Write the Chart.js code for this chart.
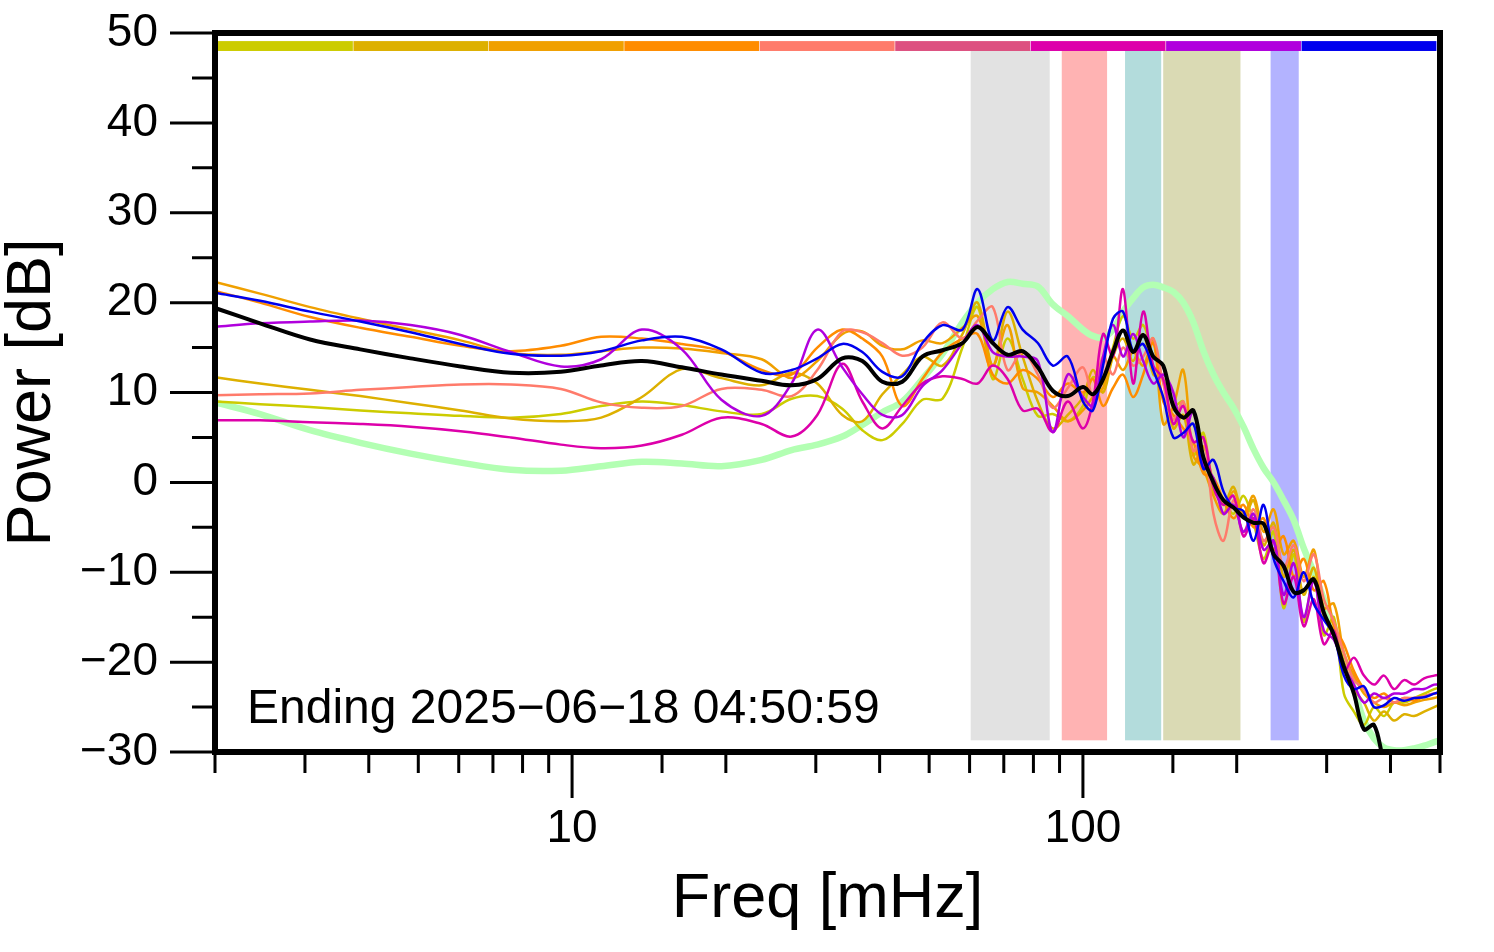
<!DOCTYPE html>
<html>
<head>
<meta charset="utf-8">
<script src="https://cdn.jsdelivr.net/npm/chart.js@4/dist/chart.umd.min.js"></script>
<style>
  html, body { margin: 0; padding: 0; background: #fff; }
</style>
</head>
<body>
<canvas id="psd" width="1494" height="952"></canvas>
<script>
// frequency grid [mHz]
const freq = [2.0, 2.45, 3.07, 3.85, 4.83, 6.05, 7.59, 9.51, 11.4, 13.7, 16.4, 19.6, 23.5, 26.9, 30.2,
  33.8, 37.0, 40.5, 44.3, 48.5, 53.1, 58.1, 62.2, 66.6, 71.2, 76.2, 81.6, 87.3, 93.4, 100,
  104.6, 109.5, 114.5, 119.8, 125.4, 131.2, 137.3, 143.6, 150.3, 157.2, 164.5, 172.1, 180.1, 188.4, 197.1,
  206.2, 215.8, 225.8, 236.2, 247.1, 258.6, 270.5, 283.1, 296.2, 309.9, 324.2, 339.2, 354.9, 371.3, 388.5,
  406.5, 425.3, 444.9, 465.5, 487.1, 500];

// power [dB] per station
const yellowDb = [9.0, 8.7, 8.4, 8.0, 7.7, 7.4, 7.2, 7.6, 8.5, 9.0, 8.6, 7.9, 7.6, 9.3, 9.6,
  8.2, 5.8, 4.7, 6.5, 9.2, 9.3, 15.0, 19.5, 11.5, 16.0, 11.5, 7.4, 7.6, 6.8, 8.5,
  11.7, 11.0, 15.0, 18.5, 16.0, 17.5, 14.0, 13.0, 8.5, 9.0, 3.0, 5.5, -1.0, -2.0, -3.5,
  -1.5, -4.5, -8.5, -5.5, -14.0, -8.0, -15.5, -10.5, -17.0, -15.0, -23.5, -25.5, -27.0, -25.0, -26.0,
  -24.5, -24.5, -24.0, -23.5, -23.0, -22.8];
const goldDb = [11.7, 11.0, 10.3, 9.6, 8.8, 8.0, 7.1, 6.8, 7.2, 9.5, 12.6, 11.6, 10.8, 12.2, 11.0,
  7.5, 6.8, 9.8, 12.0, 14.0, 13.0, 16.5, 20.0, 13.0, 19.0, 14.0, 9.0, 6.0, 7.5, 9.5,
  12.5, 10.0, 14.0, 16.0, 13.5, 16.5, 12.0, 11.5, 6.0, 7.5, 2.0, 4.0, 0.0, -2.5, -0.5,
  -4.0, -2.0, -7.0, -4.5, -10.5, -7.5, -12.5, -9.5, -15.0, -16.5, -20.0, -23.0, -24.5, -26.5, -25.5,
  -26.5, -25.8, -26.0, -25.5, -25.0, -24.7];
const orangeDb = [22.3, 21.0, 19.5, 18.2, 17.0, 15.8, 14.4, 14.2, 14.6, 15.0, 14.9, 14.4, 13.7, 11.6, 13.5,
  16.5, 16.8, 15.2, 14.8, 15.8, 15.5, 17.2, 18.5, 13.0, 17.5, 10.5, 10.0, 8.5, 6.8, 8.0,
  9.5, 10.5, 14.0, 12.5, 14.5, 13.0, 16.0, 6.5, 8.5, 12.5, 3.0, 1.5, -1.5, -3.5, -1.0,
  -3.5, -1.5, -5.5, -3.0, -8.0, -6.5, -10.5, -7.5, -14.0, -13.5, -19.0, -21.5, -23.5, -24.5, -25.0,
  -24.5, -24.8, -24.5, -24.2, -24.0, -23.8];
const darkOrangeDb = [21.3, 20.0, 18.4, 17.2, 16.2, 15.2, 14.6, 15.2, 16.2, 16.0, 15.4, 14.6, 12.5, 12.0, 15.0,
  17.0, 16.0, 14.0, 8.5, 11.5, 14.5, 16.0, 16.5, 12.0, 11.0, 12.5, 11.5, 9.5, 11.0, 10.0,
  11.5, 8.5, 10.5, 12.0, 9.5, 12.0, 15.5, 9.0, 7.5, 6.0, 4.5, 1.0, 0.5, -2.0, -4.0,
  -2.5, -5.0, -4.0, -7.5, -6.0, -10.5, -8.5, -12.0, -11.0, -16.0, -18.0, -21.0, -23.0, -24.0, -23.5,
  -24.5, -24.0, -24.3, -23.8, -23.5, -23.3];
const salmonDb = [9.7, 9.8, 9.9, 10.3, 10.6, 10.9, 10.9, 10.4, 8.9, 8.3, 8.5, 10.4, 10.3, 9.6, 12.5,
  16.8, 16.7, 15.5, 14.1, 15.0, 17.8, 16.0, 18.0, 19.5, 12.5, 14.5, 12.0, 8.3, 10.5, 12.8,
  9.6, 14.0, 12.0, 15.0, 13.0, 14.0, 16.0, 11.0, 7.0, 9.0, 3.5, 5.0, -3.5, -6.5, -2.0,
  -5.5, -3.0, -6.5, -5.0, -9.5, -7.0, -11.0, -8.0, -13.0, -15.5, -19.0, -22.0, -23.0, -24.5, -24.0,
  -24.5, -24.0, -24.0, -23.8, -23.5, -23.5];
const magentaDb = [6.9, 6.9, 6.7, 6.5, 6.2, 5.7, 5.0, 4.2, 3.8, 4.1, 5.3, 7.2, 6.5, 5.1, 7.5,
  13.2, 9.0, 6.0, 8.5, 11.0, 11.8, 11.5, 11.0, 13.0, 11.5, 8.0, 8.2, 5.6, 9.0, 6.0,
  9.0, 16.5, 14.0, 21.5, 11.0, 19.0, 13.0, 11.5, 6.5, 8.5, 4.5, 5.0, -0.5, -2.5, -1.5,
  -6.0, -4.0, -9.0, -6.5, -13.5, -10.5, -16.0, -13.0, -18.0, -16.5, -21.0, -19.5, -21.5, -22.5, -21.5,
  -23.0, -22.0, -22.5, -21.8, -21.5, -21.4];
const purpleDb = [17.3, 17.7, 17.9, 18.0, 17.5, 16.4, 14.5, 12.9, 13.7, 17.0, 14.8, 9.2, 7.4, 11.0, 17.0,
  12.8, 9.8, 7.5, 7.5, 10.7, 12.5, 15.5, 17.5, 14.5, 14.0, 14.0, 13.5, 5.6, 12.0, 9.5,
  8.5, 14.0, 17.5, 14.0, 16.5, 13.5, 11.0, 12.0, 10.0, 5.0, 8.0, 2.0, 0.5, -3.5, -2.5,
  -5.5, -3.5, -7.5, -6.5, -12.5, -9.0, -15.0, -11.0, -16.5, -17.5, -20.5, -22.5, -24.5, -23.5, -24.0,
  -23.5, -23.5, -23.0, -23.0, -22.5, -22.5];
const blueDb = [21.1, 20.2, 19.0, 17.9, 16.7, 15.4, 14.3, 14.1, 14.6, 15.8, 16.2, 14.8, 12.2, 12.5, 13.8,
  15.4, 14.5, 12.3, 11.8, 15.5, 17.5, 17.0, 21.5, 15.8, 19.5, 17.0, 15.5, 13.0, 14.0, 9.0,
  8.0, 13.0, 18.2, 19.0, 14.6, 15.4, 12.5, 9.5, 5.0, 5.5, 6.5, 1.5, 2.5, -1.0, -2.8,
  -3.2, -6.5, -2.5, -8.5, -11.0, -12.8, -10.0, -13.5, -15.3, -17.0, -21.5, -23.0, -22.7, -25.0, -24.8,
  -24.0, -24.3, -24.0, -23.9, -23.5, -23.3];
const meanDb = [19.4, 17.7, 15.9, 14.8, 13.8, 12.9, 12.2, 12.3, 13.0, 13.5, 12.8, 12.0, 11.3, 10.8, 11.5,
  13.8, 13.5, 11.2, 11.2, 14.0, 14.7, 15.5, 17.3, 15.5, 14.2, 14.6, 12.8, 10.2, 9.6, 10.6,
  9.8, 11.5, 14.5, 16.9, 14.5, 16.4, 14.0, 13.0, 8.5, 7.2, 8.0, 2.8, 0.0, -2.0, -2.8,
  -3.9, -4.5, -4.6, -8.0, -9.3, -12.2, -12.0, -10.8, -14.5, -17.0, -20.5, -23.5, -27.5, -27.0, -31,
  -33, -33, -33, -33, -33, -33];
const modelDb = [8.9, 7.6, 5.8, 4.4, 3.2, 2.2, 1.4, 1.3, 1.8, 2.3, 2.1, 1.8, 2.5, 3.6, 4.2,
  5.1, 6.4, 7.8, 9.0, 11.5, 14.3, 17.8, 20.0, 21.5, 22.3, 22.1, 21.8, 19.8, 18.5, 17.0,
  16.3, 16.1, 17.0, 19.0, 20.5, 21.7, 22.0, 21.7, 21.2, 20.0, 17.8, 14.6, 12.0, 10.0, 8.3,
  6.2, 3.7, 1.6, 0.0, -2.0, -4.2, -7.3, -10.0, -13.0, -16.0, -19.5, -23.0, -26.5, -28.5, -29.5,
  -29.8, -29.8, -29.6, -29.3, -28.9, -28.7];

// shaded frequency bands [mHz]
const bandLo = [60.3, 90.9, 120.9, 143.6, 233];
const bandHi = [86.1, 111.5, 142.3, 203.4, 264.5];
const bandColors = ["#e2e2e2", "#ffb3b3", "#b3dcdc", "#dadab4", "#b3b3ff"];
const bandTop = 48.1;
const bandBottom = -28.7;

// colour key strip along the top
const stripColors = ["#cccc00", "#ddb000", "#f0a000", "#ff8c00", "#ff7b6b", "#dd5080", "#dd00aa", "#b000dd", "#0000ee"];
const stripTop = 49.1;
const stripBottom = 48.0;

const yTicks = [-30, -25, -20, -15, -10, -5, 0, 5, 10, 15, 20, 25, 30, 35, 40, 45, 50];
const endLabel = "Ending 2025\u221206\u221218 04:50:59";

const FONT = "'Liberation Sans', Arial, Helvetica, sans-serif";
Chart.defaults.font.family = FONT;
Chart.defaults.color = "#000";

function line(data, color, width) {
  return {
    data: data.map((v, i) => ({ x: freq[i], y: v })),
    borderColor: color,
    borderWidth: width,
    pointRadius: 0,
    tension: 0.35,
    fill: false,
  };
}

////////////
const bandsPlugin = {
  id: "bands",
  beforeDatasetsDraw(chart) {
    const { ctx, chartArea, scales } = chart;
    const x = scales.x, y = scales.y;
    ctx.save();
    const yt = y.getPixelForValue(bandTop), yb = y.getPixelForValue(bandBottom);
    bandLo.forEach((lo, i) => {
      const x0 = x.getPixelForValue(lo), x1 = x.getPixelForValue(bandHi[i]);
      ctx.fillStyle = bandColors[i];
      ctx.fillRect(x0, yt, x1 - x0, yb - yt);
    });
    // colour strip
    const st = y.getPixelForValue(stripTop), sb = y.getPixelForValue(stripBottom);
    const l = chartArea.left + 3, r = chartArea.right - 3;
    const w = (r - l) / stripColors.length;
    stripColors.forEach((c, i) => {
      ctx.fillStyle = c;
      ctx.fillRect(l + i * w, st, w - 0.6, sb - st);
    });
    ctx.restore();
  },
  afterDraw(chart) {
    const { ctx, chartArea, scales } = chart;
    const x = scales.x, y = scales.y;
    ctx.save();
    ctx.strokeStyle = "#000";
    // ticks
    ctx.lineWidth = 3;
    ctx.beginPath();
    yTicks.forEach((v) => {
      const py = y.getPixelForValue(v);
      const len = v % 10 === 0 ? 45 : 23;
      ctx.moveTo(chartArea.left - len, py);
      ctx.lineTo(chartArea.left, py);
    });
    x.ticks.forEach((t) => {
      const px = x.getPixelForValue(t.value);
      const lg = Math.log10(t.value);
      const major = Math.abs(lg - Math.round(lg)) < 1e-6;
      const len = major ? 46 : 21;
      ctx.moveTo(px, chartArea.bottom);
      ctx.lineTo(px, chartArea.bottom + len);
    });
    ctx.stroke();
    // frame
    ctx.lineWidth = 6;
    ctx.strokeRect(chartArea.left, chartArea.top, chartArea.right - chartArea.left, chartArea.bottom - chartArea.top);
    // end time label
    ctx.fillStyle = "#000";
    ctx.font = "48px " + FONT;
    ctx.textAlign = "left";
    ctx.textBaseline = "middle";
    ctx.fillText(endLabel, chartArea.left + 32, chartArea.bottom - 42);
    ctx.restore();
  },
};

const chart = new Chart(document.getElementById("psd"), {
  type: "line",
  data: {
    datasets: [
      line(meanDb, "#000000", 4),
      line(blueDb, "#0000ee", 2.5),
      line(purpleDb, "#b000dd", 2.5),
      line(magentaDb, "#dd00aa", 2.5),
      line(salmonDb, "#ff7b6b", 2.5),
      line(darkOrangeDb, "#ff8c00", 2.5),
      line(orangeDb, "#f0a000", 2.5),
      line(goldDb, "#ddb000", 2.5),
      line(yellowDb, "#cccc00", 2.5),
      line(modelDb, "#b3ffb3", 6.5),
    ],
  },
  options: {
    responsive: false,
    animation: false,
    devicePixelRatio: 1,
    layout: { padding: { left: 0, right: 54, top: 33, bottom: 0 } },
    plugins: { legend: { display: false }, tooltip: { enabled: false } },
    scales: {
      x: {
        type: "logarithmic",
        min: 2,
        max: 500,
        afterFit: (s) => { s.height = 200; s.paddingLeft = 0; s.paddingRight = 0; },
        border: { display: false },
        grid: { drawOnChartArea: false, drawTicks: true, tickLength: 46, tickColor: "rgba(0,0,0,0)" },
        ticks: {
          autoSkip: false,
          maxRotation: 0,
          padding: 4,
          font: { size: 46 },
          callback: (v) => (v === 10 || v === 100 ? String(v) : ""),
        },
        title: { display: true, text: "Freq [mHz]", font: { size: 63, lineHeight: 1 }, padding: { top: 0, bottom: 21 } },
      },
      y: {
        min: -30,
        max: 50,
        afterFit: (s) => { s.width = 215; s.paddingTop = 0; s.paddingBottom = 0; },
        border: { display: false },
        grid: { drawOnChartArea: false, drawTicks: true, tickLength: 45, tickColor: "rgba(0,0,0,0)" },
        ticks: {
          stepSize: 5,
          autoSkip: false,
          padding: 12,
          font: { size: 46 },
          callback: (v) => (v % 10 === 0 ? String(v).replace("-", "\u2212") : ""),
        },
        title: { display: true, text: "Power [dB]", font: { size: 63, lineHeight: 1 }, padding: { top: 1, bottom: 0 } },
      },
    },
  },
  plugins: [bandsPlugin],
});
</script>
</body>
</html>
